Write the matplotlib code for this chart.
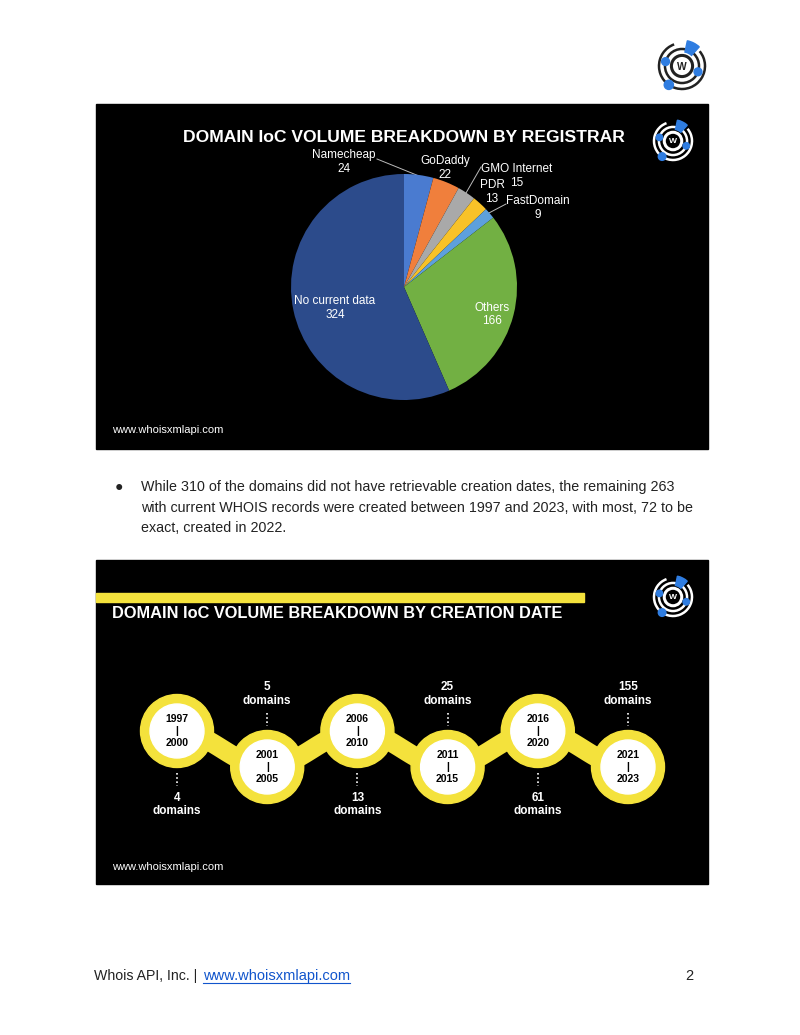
import numpy as np
import matplotlib
matplotlib.use("Agg")
import matplotlib.pyplot as plt
from matplotlib.patches import Rectangle, Circle, Wedge, Arc

plt.rcParams['font.family'] = ['Liberation Sans', 'DejaVu Sans']

# Donnees : registrar (camembert)
registrars = ['Namecheap', 'GoDaddy', 'GMO Internet', 'PDR', 'FastDomain', 'Others', 'No current data']
registrar_counts = [24, 22, 15, 13, 9, 166, 324]
registrar_colors = ['#4a7bd0', '#f07f3c', '#a9a9a9', '#f8c228', '#5da0dc', '#72b043', '#2c4b8b']

# Donnees : date de creation (frise)
periods = [('1997', '2000'), ('2001', '2005'), ('2006', '2010'),
           ('2011', '2015'), ('2016', '2020'), ('2021', '2023')]
period_counts = [4, 5, 13, 25, 61, 155]

yellow = '#f4e23c'
blue = '#2f7de1'

fig = plt.figure(figsize=(8, 10.35), dpi=100)
fig.patch.set_facecolor('white')

# axe "page" en pixels
page = fig.add_axes([0, 0, 1, 1])
page.set_xlim(0, 800)
page.set_ylim(1035, 0)
page.axis('off')


def draw_logo(ax, cx, cy, r, ring):
    ax.add_patch(Arc((cx, cy), 2 * r, 2 * r, theta1=-40, theta2=250, color=ring, lw=1.8, zorder=6))
    ax.add_patch(Circle((cx, cy), 0.74 * r, fill=False, ec=ring, lw=1.8, zorder=6))
    ax.add_patch(Circle((cx, cy), 0.46 * r, fill=False, ec=ring, lw=2.2, zorder=6))
    ax.text(cx, cy + 0.5, 'W', color=ring, ha='center', va='center', fontsize=r * 0.32,
            fontweight='bold', zorder=7)
    ax.add_patch(Wedge((cx, cy), 1.12 * r, -78, -48, width=0.5 * r, color=blue, zorder=7))
    for ang, rr, s in [(165, 0.74, 0.17), (-20, 0.74, 0.17), (235, 1.0, 0.2)]:
        a = np.radians(ang)
        ax.add_patch(Circle((cx + rr * r * np.cos(a), cy - rr * r * np.sin(a)), s * r,
                            color=blue, zorder=8))


# logo de la page
draw_logo(page, 682, 66, 23, '#222222')

# ---------------- panneau 1 : camembert ----------------
page.add_patch(Rectangle((96, 104), 612, 345, color='black', zorder=0))
page.text(404, 137, 'DOMAIN IoC VOLUME BREAKDOWN BY REGISTRAR', color='white',
          fontsize=12.6, fontweight='bold', ha='center', va='center')
draw_logo(page, 673, 141, 19, 'white')
page.text(112, 430, 'www.whoisxmlapi.com', color='white', fontsize=8, ha='left', va='center')

cx, cy, rad = 404, 287, 113
pie_ax = fig.add_axes([(cx - rad) / 800, 1 - (cy + rad) / 1035, 2 * rad / 800, 2 * rad / 1035])
pie_ax.pie(registrar_counts, colors=registrar_colors, startangle=90, counterclock=False,
           wedgeprops=dict(linewidth=0))
pie_ax.set_xlim(-1, 1)
pie_ax.set_ylim(-1, 1)
pie_ax.axis('off')

# etiquettes (position en pixels, dessinees au-dessus du camembert)
label_pos = {
    'Namecheap': (344, 155),
    'GoDaddy': (445, 161),
    'GMO Internet': (517, 169),
    'PDR': (492, 185),
    'FastDomain': (538, 201),
    'Others': (492, 308),
    'No current data': (335, 301),
}
for name, n in zip(registrars, registrar_counts):
    x, y = label_pos[name]
    pie_ax.text(x, y, name, color='white', fontsize=8.5, ha='center', va='center',
                transform=page.transData, zorder=5)
    pie_ax.text(x, y + 13.5, str(n), color='white', fontsize=8.5, ha='center', va='center',
                transform=page.transData, zorder=5)

leaders = [((377, 159), (419, 176)), ((481, 167), (466, 193)), ((506, 204), (487, 214))]
for (x1, y1), (x2, y2) in leaders:
    page.plot([x1, x2], [y1, y2], color='#bbbbbb', lw=0.7, zorder=5)

# ---------------- texte ----------------
page.text(119, 487, '\u25cf', fontsize=10, ha='center', va='center', color='#222222')
body = ['While 310 of the domains did not have retrievable creation dates, the remaining 263',
        'with current WHOIS records were created between 1997 and 2023, with most, 72 to be',
        'exact, created in 2022.']
for i, line in enumerate(body):
    page.text(141, 487 + i * 20.7, line, fontsize=10.3, ha='left', va='center', color='#222222')

# ---------------- panneau 2 : frise ----------------
page.add_patch(Rectangle((96, 560), 612, 324, color='black', zorder=0))
page.add_patch(Rectangle((96, 593), 488, 9, color=yellow, zorder=1))
page.text(112, 614, 'DOMAIN IoC VOLUME BREAKDOWN BY CREATION DATE', color='white',
          fontsize=11.8, fontweight='bold', ha='left', va='center')
draw_logo(page, 673, 597, 19, 'white')
page.text(112, 867, 'www.whoisxmlapi.com', color='white', fontsize=8, ha='left', va='center')

xs = [177 + 90.2 * i for i in range(len(periods))]
ys = [731 if i % 2 == 0 else 767 for i in range(len(periods))]

# liaison ondulee entre les cercles
t = np.linspace(0, 1, 30)
for i in range(len(xs) - 1):
    px = xs[i] + (xs[i + 1] - xs[i]) * t
    py = ys[i] + (ys[i + 1] - ys[i]) * (1 - np.cos(np.pi * t)) / 2
    page.plot(px, py, color=yellow, lw=14, solid_capstyle='round', zorder=2)

for i, ((start, end), n) in enumerate(zip(periods, period_counts)):
    x, y = xs[i], ys[i]
    page.add_patch(Circle((x, y), 36.5, color=yellow, zorder=3))
    page.add_patch(Circle((x, y), 27, color='white', zorder=4))
    page.text(x, y - 12, start, fontsize=7.5, fontweight='bold', ha='center', va='center', zorder=5)
    page.text(x, y, '|', fontsize=7.5, fontweight='bold', ha='center', va='center', zorder=5)
    page.text(x, y + 12, end, fontsize=7.5, fontweight='bold', ha='center', va='center', zorder=5)
    if i % 2 == 0:
        page.plot([x, x], [773, 786], color='white', lw=1.2, ls=(0, (1, 1.5)), zorder=5)
        page.text(x, 798, str(n), color='white', fontsize=8.5, fontweight='bold', ha='center', va='center')
        page.text(x, 811.5, 'domains', color='white', fontsize=8.5, fontweight='bold', ha='center', va='center')
    else:
        page.plot([x, x], [713, 726], color='white', lw=1.2, ls=(0, (1, 1.5)), zorder=5)
        page.text(x, 687, str(n), color='white', fontsize=8.5, fontweight='bold', ha='center', va='center')
        page.text(x, 701, 'domains', color='white', fontsize=8.5, fontweight='bold', ha='center', va='center')

# ---------------- pied de page ----------------
page.text(94, 976, 'Whois API, Inc. |', fontsize=10.2, ha='left', va='center', color='#222222')
page.text(203, 976, 'www.whoisxmlapi.com', fontsize=10.5, ha='left', va='center', color='#1155cc')
page.plot([203, 350], [983, 983], color='#1155cc', lw=0.8)
page.text(693, 976, '2', fontsize=10.5, ha='right', va='center', color='#222222')

fig.savefig('out.png', dpi=100)
